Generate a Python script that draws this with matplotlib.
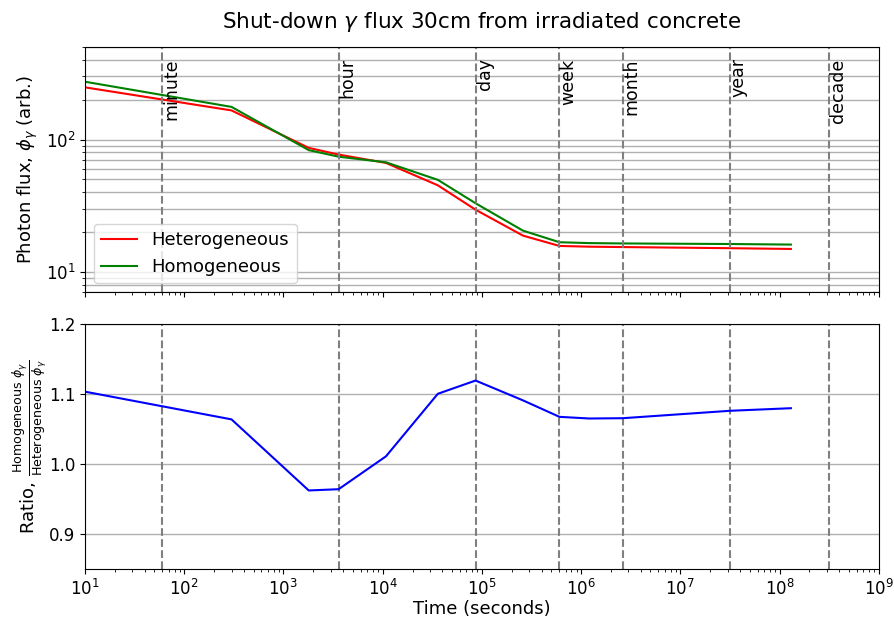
import numpy as np
import matplotlib.pyplot as plt

# Cooling times (seconds) and photon fluxes
times = [10, 300, 1800, 3600, 10800, 36000, 86400, 259200, 604800,
         1209600, 2.63e6, 3.156e7, 1.3e8]
hetero = [248, 166, 86.5, 77, 66.6, 45.1, 29.5, 18.8, 15.7,
          15.5, 15.4, 15.1, 14.9]
homog = [273.5, 176.5, 83.2, 74.2, 67.3, 49.6, 33.0, 20.5, 16.75,
         16.5, 16.4, 16.24, 16.08]

# Reference time markers
marker_names = ['minute', 'hour', 'day', 'week', 'month', 'year', 'decade']
marker_times = [60, 3600, 86400, 604800, 2.63e6, 3.156e7, 3.156e8]

ratio = np.array(homog) / np.array(hetero)

fig, (ax1, ax2) = plt.subplots(2, 1, sharex=True, figsize=(8.94, 6.19), dpi=100)
fig.subplots_adjust(left=0.095, right=0.983, top=0.924, bottom=0.081, hspace=0.127)

# Panel superior: flujo
ax1.plot(times, hetero, color='r', lw=1.5, label='Heterogeneous')
ax1.plot(times, homog, color='g', lw=1.5, label='Homogeneous')
ax1.set_xscale('log')
ax1.set_yscale('log')
ax1.set_ylim(7, 500)
ax1.grid(axis='y', which='both', color='#b0b0b0', lw=1)
ax1.set_ylabel(r'Photon flux, $\phi_\gamma$ (arb.)', fontsize=13)
ax1.set_title(r'Shut-down $\gamma$ flux 30cm from irradiated concrete', fontsize=15.5, pad=14)
ax1.legend(loc='lower left', fontsize=13)

for name, t in zip(marker_names, marker_times):
    ax1.axvline(t, color='gray', ls='--', lw=1.5)
    ax2.axvline(t, color='gray', ls='--', lw=1.5)
    ax1.text(t, 410, name, rotation=90, va='top', ha='left', fontsize=12.5)

# Panel inferior: cociente
ax2.plot(times, ratio, color='b', lw=1.5)
ax2.set_ylim(0.85, 1.2)
ax2.set_yticks([0.9, 1.0, 1.1, 1.2])
ax2.grid(axis='y', which='major', color='#b0b0b0', lw=1)
ax2.set_xlim(10, 1e9)
ax2.set_xlabel('Time (seconds)', fontsize=13, labelpad=1)
ax2.set_ylabel(r'Ratio, $\frac{\mathrm{Homogeneous}\ \phi_\gamma}{\mathrm{Heterogeneous}\ \phi_\gamma}$',
               fontsize=13, labelpad=0)

for ax in (ax1, ax2):
    ax.tick_params(labelsize=12)

fig.savefig('out.png', dpi=100)
